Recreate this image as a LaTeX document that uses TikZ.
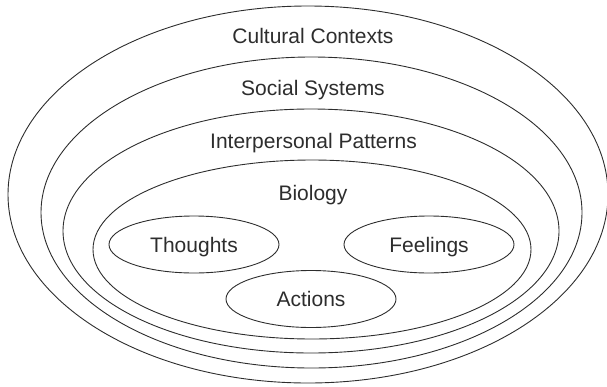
\documentclass[tikz,border=0pt]{standalone}
\usepackage{fontspec}
\setmainfont{Liberation Sans}
\usetikzlibrary{shapes.geometric}
\definecolor{ink}{RGB}{45,45,45}
\tikzset{
  ring/.style={draw=ink, line width=0.9pt, ellipse, inner sep=0pt},
  lab/.style={anchor=base, text=ink, inner sep=0pt, font=\fontsize{21}{25}\selectfont},
  part/.style={draw=ink, line width=0.9pt, ellipse, inner sep=0pt,
    minimum width=170pt, minimum height=57pt, text=ink,
    text height=15pt, text depth=0pt, font=\fontsize{21}{25}\selectfont}
}
\begin{document}
\begin{tikzpicture}[x=1pt,y=-1pt]
\useasboundingbox (0,0) rectangle (607,386);
\node[ring, minimum width=600pt, minimum height=377pt] (cult) at (308,194.5) {};
\node[ring, minimum width=541pt, minimum height=311pt] (soc) at (311.5,212.5) {};
\node[ring, minimum width=496pt, minimum height=244pt] (inter) at (311,231) {};
\node[ring, minimum width=438pt, minimum height=179pt] (bio) at (312,249.5) {};
\node[lab] (cultlab) at (313,43) {Cultural Contexts};
\node[lab] (soclab) at (313,95) {Social Systems};
\node[lab] (interlab) at (313.5,148) {Interpersonal Patterns};
\node[lab] (biolab) at (313,200) {Biology};
\node[part] (thoughts) at (194,244.5) {Thoughts};
\node[part] (feelings) at (429,244.5) {Feelings};
\node[part] (actions) at (311,299) {Actions};
\end{tikzpicture}
\end{document}
